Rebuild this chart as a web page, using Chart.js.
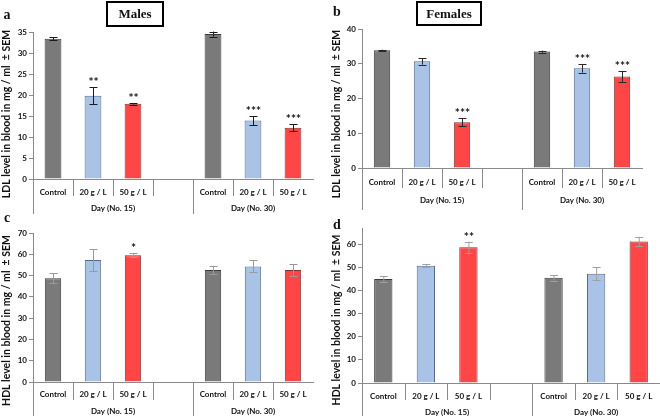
<!DOCTYPE html>
<html><head><meta charset="utf-8">
<script src="https://cdn.jsdelivr.net/npm/chart.js@4"></script>
<style>
html,body{margin:0;padding:0;background:#fff;}
body{width:660px;height:416px;position:relative;overflow:hidden;}
.p{position:absolute;}
canvas{display:block;}
</style></head><body>
<div class="p" style="left:0;top:205px;"><canvas id="cc" width="330" height="211"></canvas></div>
<div class="p" style="left:330px;top:205px;"><canvas id="cd" width="330" height="211"></canvas></div>
<div class="p" style="left:0;top:0;"><canvas id="ca" width="330" height="214"></canvas></div>
<div class="p" style="left:330px;top:0;"><canvas id="cb" width="330" height="214"></canvas></div>
<script>
// ---- data ----
const categories = ["Control", "20 g / L", "50 g / L", "", "Control", "20 g / L", "50 g / L"];
const dayGroups = ["Day (No. 15)", "Day (No. 30)"];

const ldlMales      = [33.4, 19.8, 17.9, null, 34.5, 13.9, 12.2];
const ldlMalesSem   = [0.3, 2.0, 0.2, null, 0.6, 1.1, 0.85];
const ldlMalesSig   = ["", "**", "**", "", "", "***", "***"];

const ldlFemales    = [33.9, 30.7, 13.2, null, 33.5, 28.7, 26.3];
const ldlFemalesSem = [0.15, 0.95, 1.15, null, 0.3, 1.25, 1.55];
const ldlFemalesSig = ["", "", "***", "", "", "***", "***"];

const hdlMales      = [48.7, 57.3, 59.5, null, 52.6, 54.3, 52.6];
const hdlMalesSem   = [2.4, 5.2, 1.0, null, 2.0, 2.8, 2.7];
const hdlMalesSig   = ["", "", "*", "", "", "", ""];

const hdlFemales    = [45.0, 50.7, 58.7, null, 45.5, 47.2, 61.2];
const hdlFemalesSem = [1.2, 0.7, 2.3, null, 1.2, 2.8, 2.0];
const hdlFemalesSig = ["", "", "**", "", "", "", ""];

// ---- styles ----
const FONT = "Lato, 'Open Sans', sans-serif";
const SERIF = "'Liberation Serif', 'DejaVu Serif', serif";
const fills   = ["#7a7a7a", "#a9c3e6", "#ff4646", "#ffffff", "#7a7a7a", "#a9c3e6", "#ff4646"];
const borders = ["#3c3c3c", "#56698a", "#7a3333", "#ffffff", "#3c3c3c", "#56698a", "#7a3333"];
const axisColor = "#8a8a8a";

function makeChart(id, cfg) {
  const canvas = document.getElementById(id);
  const panelPlugin = {
    id: 'panel_' + id,
    afterDatasetsDraw(chart) {
      const ctx = chart.ctx, x = chart.scales.x, y = chart.scales.y;
      ctx.save();
      cfg.values.forEach((v, i) => {
        if (v == null) return;
        const xc = x.getPixelForValue(i);
        const s = cfg.sem[i];
        const yt = y.getPixelForValue(v + s), yb = y.getPixelForValue(v - s);
        ctx.strokeStyle = cfg.errColor; ctx.lineWidth = 1;
        ctx.beginPath();
        ctx.moveTo(xc + 0.5, yt); ctx.lineTo(xc + 0.5, yb);
        ctx.moveTo(xc - 3.5, Math.round(yt) + 0.5); ctx.lineTo(xc + 4.5, Math.round(yt) + 0.5);
        ctx.moveTo(xc - 3.5, Math.round(yb) + 0.5); ctx.lineTo(xc + 4.5, Math.round(yb) + 0.5);
        ctx.stroke();
        if (cfg.sig[i]) {
          ctx.fillStyle = "#111";
          ctx.font = "bold 12px " + FONT;
          ctx.textAlign = "center"; ctx.textBaseline = "middle";
          ctx.fillText(cfg.sig[i], xc + 0.5, yt - 5);
        }
      });
      ctx.restore();
    },
    afterDraw(chart) {
      const ctx = chart.ctx, x = chart.scales.x;
      const b = chart.chartArea.bottom;
      ctx.save();
      ctx.strokeStyle = axisColor; ctx.lineWidth = 1;
      ctx.beginPath();
      for (let i = 0; i < 7; i++) {
        const bx = Math.round(x.getPixelForValue(i - 0.5)) + 0.5;
        const long = (i === 0 || i === 4);
        ctx.moveTo(bx, b);
        ctx.lineTo(bx, b + (long ? cfg.longOff : cfg.shortOff));
      }
      ctx.stroke();
      ctx.fillStyle = "#111";
      ctx.font = "bold 8px " + FONT;
      ctx.textAlign = "center"; ctx.textBaseline = "middle";
      categories.forEach((c, i) => { if (c) ctx.fillText(c, x.getPixelForValue(i), b + cfg.labelOff); });
      const g1 = (x.getPixelForValue(-0.5) + x.getPixelForValue(3.5)) / 2;
      const g2 = (x.getPixelForValue(3.5) + x.getPixelForValue(6.5)) / 2;
      ctx.fillText(dayGroups[0], g1, b + cfg.dayOff);
      ctx.fillText(dayGroups[1], g2, b + cfg.dayOff);
      ctx.save();
      ctx.translate(cfg.yTitleX, cfg.yTitleY);
      ctx.rotate(-Math.PI / 2);
      ctx.font = "bold 10.5px " + FONT;
      ctx.fillText(cfg.yTitle, 0, 0);
      ctx.restore();
      ctx.font = "bold 14px " + SERIF;
      ctx.fillText(cfg.letter, cfg.letterX, cfg.letterY);
      if (cfg.box) {
        const bx = cfg.box;
        ctx.strokeStyle = "#000"; ctx.lineWidth = 2;
        ctx.strokeRect(bx.x, bx.y, bx.w, bx.h);
        ctx.font = "bold 13px " + SERIF;
        ctx.fillText(bx.text, bx.x + bx.w / 2, bx.y + bx.h / 2 + 1);
      }
      ctx.restore();
    }
  };
  return new Chart(canvas, {
    type: 'bar',
    data: {
      labels: categories,
      datasets: [{
        data: cfg.values,
        backgroundColor: fills,
        borderColor: borders,
        borderWidth: 1,
        barPercentage: cfg.barPct,
        categoryPercentage: 1
      }]
    },
    options: {
      responsive: false,
      animation: false,
      events: [],
      layout: { padding: { left: 0, top: cfg.top, right: cfg.right, bottom: cfg.bottom } },
      plugins: { legend: { display: false }, tooltip: { enabled: false } },
      scales: {
        x: {
          offset: true,
          grid: { display: false },
          ticks: { display: false },
          border: { display: true, color: axisColor },
          afterFit: s => { s.height = 1; }
        },
        y: {
          min: 0, max: cfg.max,
          afterFit: s => { s.width = cfg.axisW; },
          afterBuildTicks: s => { s.ticks = s.ticks.filter(t => Math.abs(t.value % cfg.step) < 1e-6); },
          ticks: { stepSize: cfg.step, font: { family: FONT, size: 8, weight: 'bold' }, color: "#111", padding: 2 },
          grid: { drawOnChartArea: false, tickLength: 4, color: axisColor },
          border: { color: axisColor }
        }
      }
    },
    plugins: [panelPlugin]
  });
}

makeChart('ca', {
  values: ldlMales, sem: ldlMalesSem, sig: ldlMalesSig, max: 35, step: 5,
  top: 32, bottom: 34, right: 17, axisW: 33, barPct: 0.42,
  labelOff: 13, dayOff: 29.5, shortOff: 17, longOff: 35,
  errColor: "#1a1a1a",
  yTitle: "LDL level in blood in mg / ml  \u00b1 SEM", yTitleX: 7, yTitleY: 114,
  letter: "a", letterX: 7, letterY: 15,
  box: { x: 107, y: 2, w: 56, h: 24, text: "Males" }
});
makeChart('cb', {
  values: ldlFemales, sem: ldlFemalesSem, sig: ldlFemalesSig, max: 40, step: 10,
  top: 29, bottom: 45, right: 18, axisW: 32, barPct: 0.41,
  labelOff: 14, dayOff: 32, shortOff: 20, longOff: 42,
  errColor: "#2a2a2a",
  yTitle: "LDL level in blood in mg / ml  \u00b1 SEM", yTitleX: 7, yTitleY: 114,
  letter: "b", letterX: 7, letterY: 12,
  box: { x: 87, y: 2, w: 64, h: 23, text: "Females" }
});
makeChart('cc', {
  values: hdlMales, sem: hdlMalesSem, sig: hdlMalesSig, max: 70, step: 10,
  top: 28, bottom: 33, right: 17, axisW: 33, barPct: 0.41,
  labelOff: 12, dayOff: 29, shortOff: 18, longOff: 34,
  errColor: "#9a9a9a",
  yTitle: "HDL level in blood in mg / ml  \u00b1 SEM", yTitleX: 7, yTitleY: 115.5,
  letter: "c", letterX: 7, letterY: 13
});
makeChart('cd', {
  values: hdlFemales, sem: hdlFemalesSem, sig: hdlFemalesSig, max: 67, step: 10,
  top: 23, bottom: 32, right: 0, axisW: 32, barPct: 0.43,
  labelOff: 13, dayOff: 29, shortOff: 17, longOff: 33,
  errColor: "#a0a0a0",
  yTitle: "HDL level in blood in mg / ml  \u00b1 SEM", yTitleX: 7, yTitleY: 115,
  letter: "d", letterX: 7, letterY: 20
});
</script>
</body></html>
